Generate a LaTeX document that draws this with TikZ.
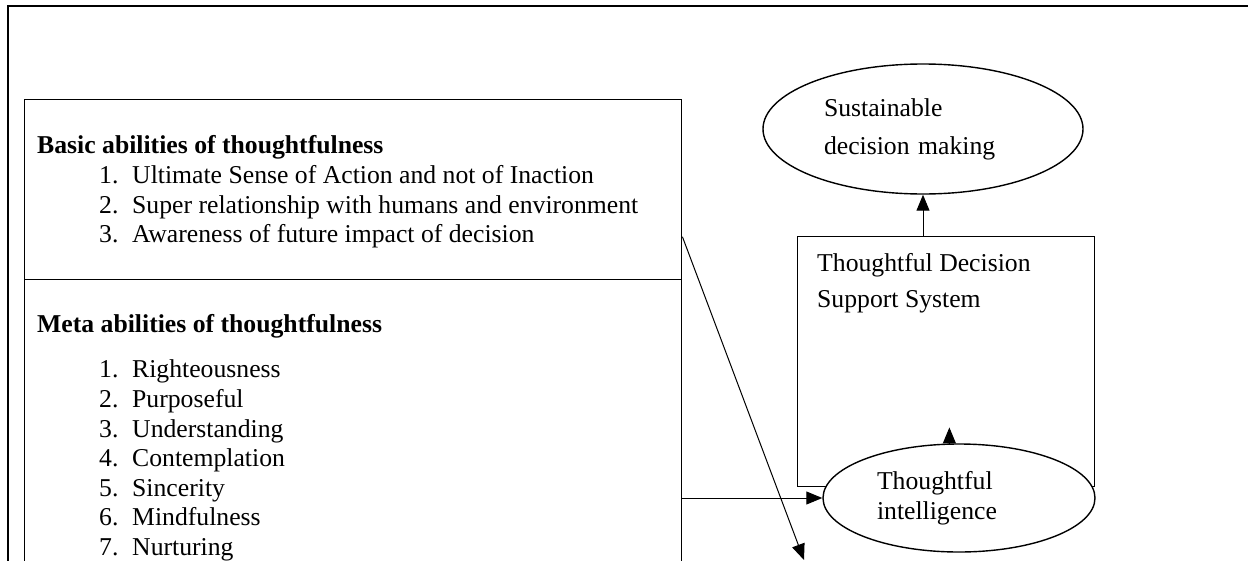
\documentclass[tikz,border=0pt]{standalone}
\usepackage{fontspec}
\setmainfont{Liberation Serif}
\usetikzlibrary{shapes.geometric, arrows.meta, positioning}

\tikzstyle{frame} = [draw=black, line width=2.4pt]
\tikzstyle{listbox} = [rectangle,
minimum width=657pt,
inner sep=0pt,
anchor=north west,
draw=black, line width=1.4pt]
\tikzstyle{listtext} = [align=left,
inner sep=0pt,
anchor=north west,
font=\fontsize{25.7}{29.6}\selectfont]
\tikzstyle{system} = [rectangle,
minimum width=297pt,
minimum height=250pt,
inner sep=0pt,
anchor=north west,
draw=black, line width=1.4pt]
\tikzstyle{oval} = [ellipse,
inner sep=0pt,
align=left,
draw=black, line width=1.4pt, fill=white]
\tikzstyle{arrow} = [line width=1pt,-{Triangle[length=16pt,width=13pt]}]

\newcommand{\itm}[2]{\hspace*{62pt}\makebox[33pt][l]{#1.}#2}

\begin{document}
\begin{tikzpicture}[x=1pt, y=-1pt]
\useasboundingbox (0,0) rectangle (1248,560);
\clip (0,0) rectangle (1248,560);
\draw [frame] (8,6) rectangle (1270,600);

\node (basic) [listbox, minimum height=180pt] at (24,99) {};
\node (meta) [listbox, minimum height=330pt] at (24,279) {};

\node (basictxt) [listtext, below right=36.5pt and 13pt of basic.north west] {\textbf{Basic abilities of thoughtfulness}\\
\itm{1}{Ultimate Sense of Action and not of Inaction}\\
\itm{2}{Super relationship with humans and environment}\\
\itm{3}{Awareness of future impact of decision}};

\node (metatxt) [listtext, below right=35.5pt and 13pt of meta.north west] {\textbf{Meta abilities of thoughtfulness}\\[15.4pt]
\itm{1}{Righteousness}\\
\itm{2}{Purposeful}\\
\itm{3}{Understanding}\\
\itm{4}{Contemplation}\\
\itm{5}{Sincerity}\\
\itm{6}{Mindfulness}\\
\itm{7}{Nurturing}};

\node (dss) [system] at (797,236) {};
\node (dsstxt) [listtext, font=\fontsize{25.7}{36}\selectfont, below right=17pt and 20pt of dss.north west] {Thoughtful Decision\\Support System};

\node (sdm) [oval, font=\fontsize{25.7}{38}\selectfont, minimum width=320pt, minimum height=130pt, text width=198pt] at (923,129) {Sustainable\\decision making};
\node (ti) [oval, font=\fontsize{25.7}{30}\selectfont, minimum width=272pt, minimum height=108pt, text width=164pt] at (959,498) {Thoughtful\\intelligence};

\coordinate (end) at (804,560);

\draw [arrow] (dss.north -| sdm.south) -- (sdm.south);
\draw [arrow] (ti.100) -- ++(0,-16);
\draw [arrow] (meta.east |- ti.west) -- (ti.west);
\draw [arrow] ([yshift=-47pt]basic.east) -- (end);

\end{tikzpicture}
\end{document}
